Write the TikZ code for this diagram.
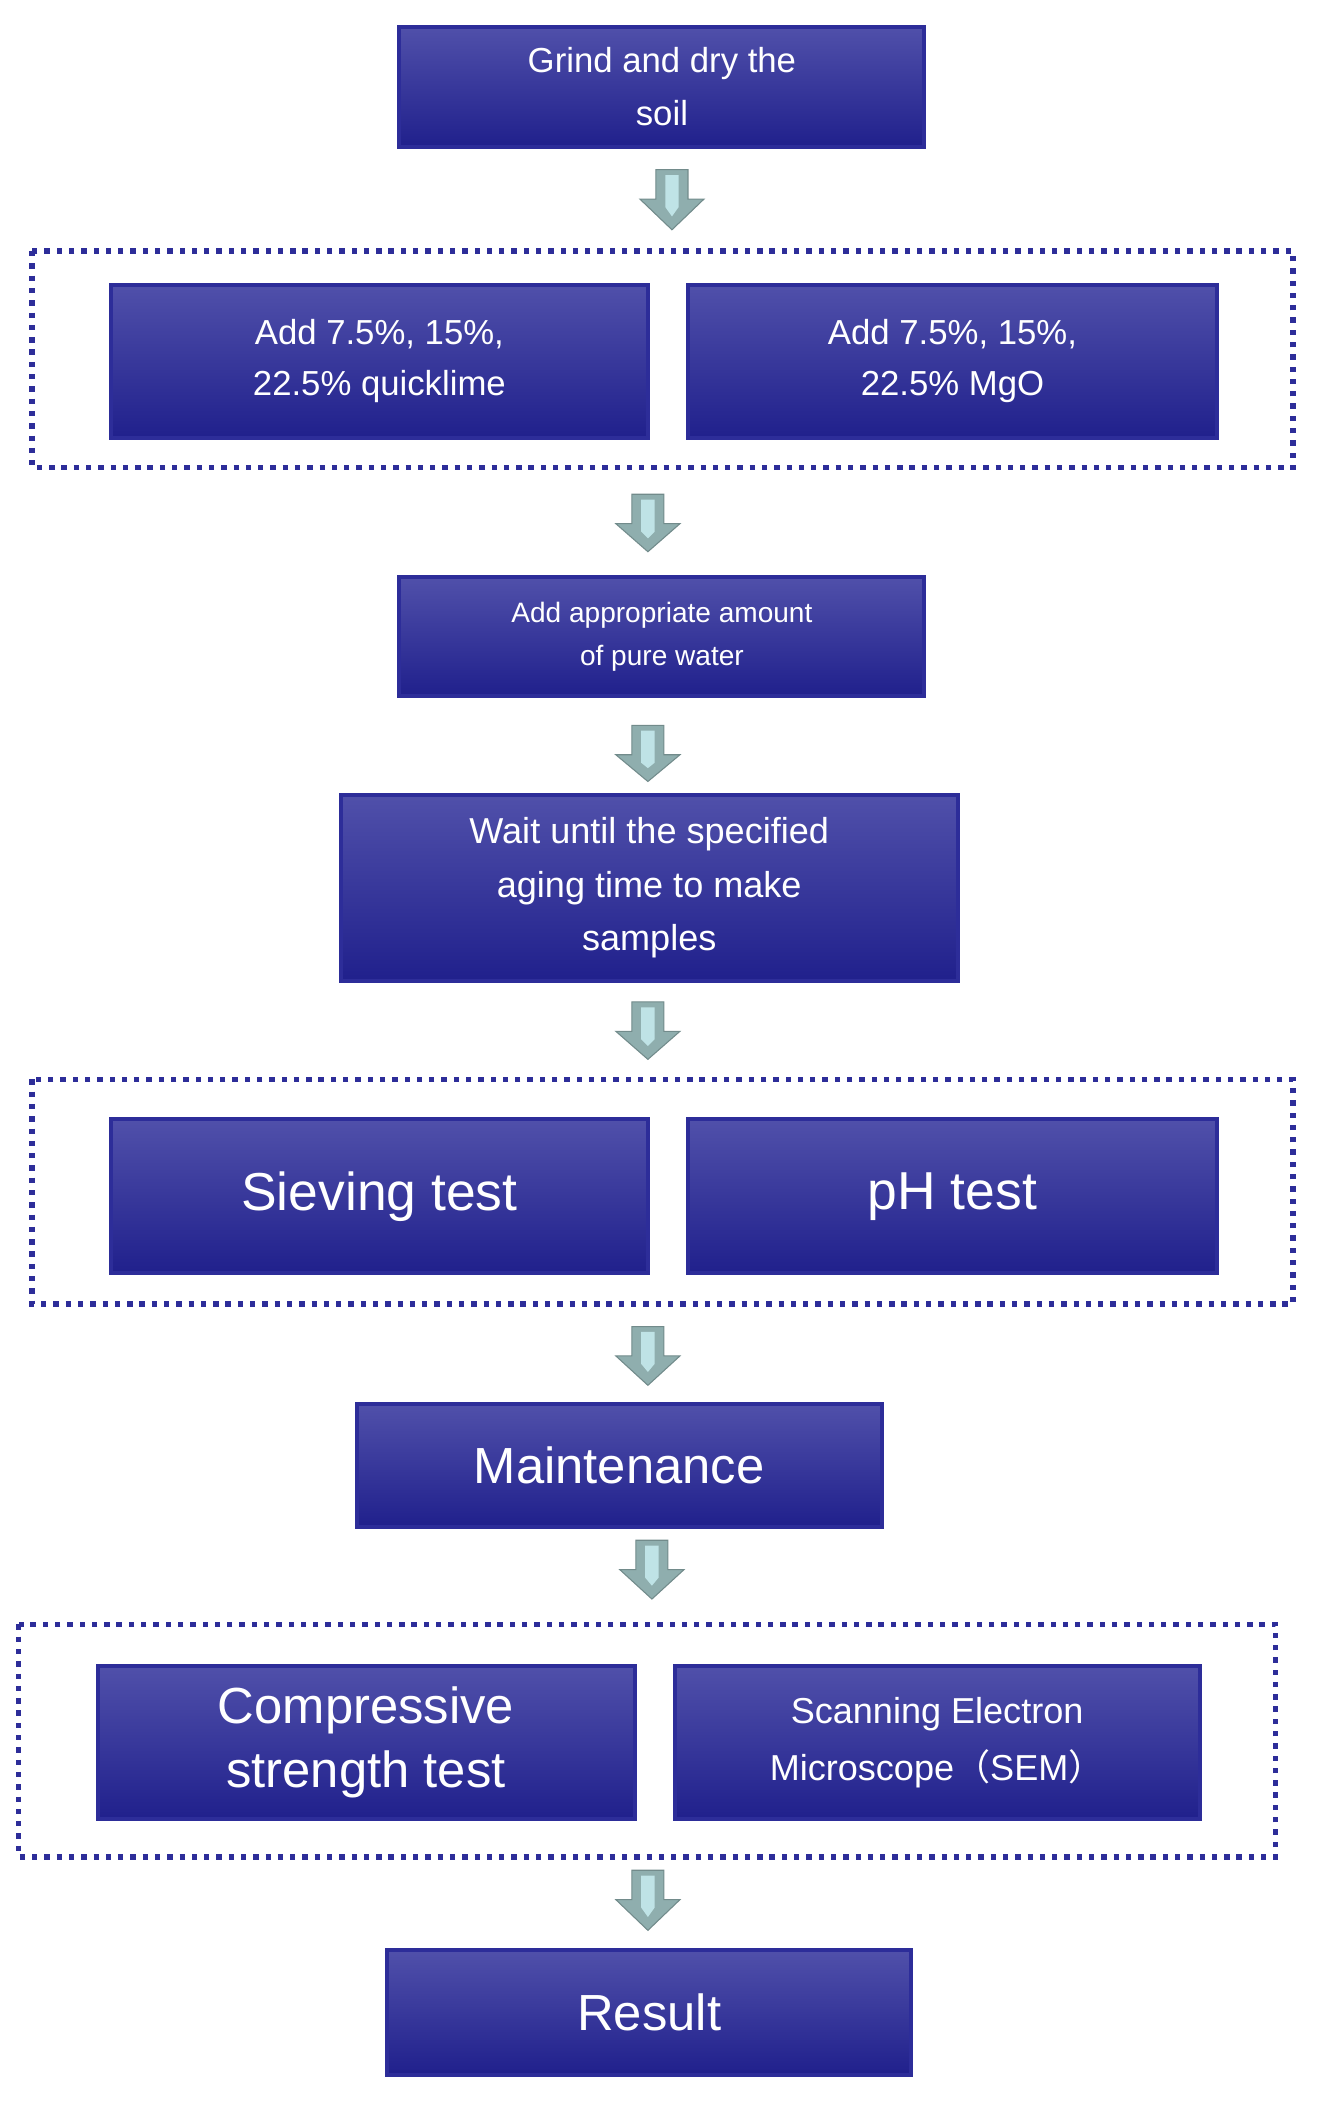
\documentclass[tikz,border=0pt]{standalone}
\usepackage{fontspec}
\setmainfont{Liberation Sans}
\newfontfamily\cjk{Noto Sans CJK SC}
\begin{document}
\begin{tikzpicture}[x=0.5pt,y=-0.5pt,
  box/.style={draw=boxedge,line width=1.5pt,top color=boxtop,bottom color=boxbot,text=white,align=center,inner sep=0pt},
  frame/.style={draw=boxedge,line width=2pt,dash pattern=on 2pt off 2.6pt},
  arr/.style={fill=arrowgray,draw=arrowgray!80!black,line width=0.4pt}]
\definecolor{boxedge}{HTML}{2D2D99}
\definecolor{boxtop}{HTML}{5050AA}
\definecolor{boxbot}{HTML}{20208C}
\definecolor{arrowgray}{HTML}{8FAEAE}
\definecolor{arrowin}{HTML}{BFE3E6}
\newcommand\mybox[6]{\node[box,minimum width=#3*0.5pt-#1*0.5pt,minimum height=#4*0.5pt-#2*0.5pt,font=\fontsize{#6}{#6*1.25}\selectfont] (#5) at ({(#1+#3)/2},{(#2+#4)/2}) {};}
\newcommand\blockarrow[3]{% x, ytop, ybot
 \fill[arr] (#1-12,#2) -- (#1+12,#2) -- (#1+12,#2+22) -- (#1+24,#2+22) -- (#1,#3) -- (#1-24,#2+22) -- (#1-12,#2+22) -- cycle;
 \fill[arrowin] (#1-5,#2+4) -- (#1+5,#2+4) -- (#1+5,#2+28) -- (#1,#3-10) -- (#1-5,#2+28) -- cycle;}
\useasboundingbox (0,0) rectangle (1000,1575);
% boxes
\node[box,minimum width=196.5pt,minimum height=45pt,font=\fontsize{13}{20}\selectfont] (b1) at (495.5,65) {Grind and dry the\\soil};
\draw[frame] (24,188) rectangle (968,350);
\node[box,minimum width=201pt,minimum height=57.5pt,font=\fontsize{13}{19}\selectfont] (q) at (284,270.5) {Add 7.5\%, 15\%,\\22.5\% quicklime};
\node[box,minimum width=198pt,minimum height=57.5pt,font=\fontsize{13}{19}\selectfont] (m) at (713,270.5) {Add 7.5\%, 15\%,\\22.5\% MgO};
\node[box,minimum width=196.5pt,minimum height=44.5pt,font=\fontsize{10.5}{16}\selectfont] (w) at (495.5,476.5) {Add appropriate amount\\of pure water};
\node[box,minimum width=231pt,minimum height=69.5pt,font=\fontsize{13.5}{20}\selectfont] (a) at (486,664.5) {Wait until the specified\\aging time to make\\samples};
\draw[frame] (24,808) rectangle (968,976);
\node[box,minimum width=201pt,minimum height=57.5pt,font=\fontsize{20}{24}\selectfont] (s) at (284,895.5) {Sieving test};
\node[box,minimum width=198pt,minimum height=57.5pt,font=\fontsize{20}{24}\selectfont] (p) at (713,895.5) {pH test};
\node[box,minimum width=196.5pt,minimum height=46pt,font=\fontsize{19}{24}\selectfont] (mt) at (463.5,1097) {Maintenance};
\draw[frame] (14,1216) rectangle (955,1390);
\node[box,minimum width=201pt,minimum height=57.5pt,font=\fontsize{19}{24}\selectfont] (c) at (274,1304.5) {Compressive\\strength test};
\node[box,minimum width=196.5pt,minimum height=57.5pt,font=\fontsize{13.5}{21}\selectfont] (sem) at (701.5,1304.5) {Scanning Electron\\Microscope{\cjk（}SEM{\cjk）}};
\node[box,minimum width=196pt,minimum height=46.5pt,font=\fontsize{19}{24}\selectfont] (r) at (486,1506.5) {Result};
% arrows
\blockarrow{503}{127}{172}
\blockarrow{485}{370}{413}
\blockarrow{485}{543}{585}
\blockarrow{485}{750}{793}
\blockarrow{485}{993}{1037}
\blockarrow{488}{1153}{1197}
\blockarrow{485}{1400}{1445}
\end{tikzpicture}
\end{document}
